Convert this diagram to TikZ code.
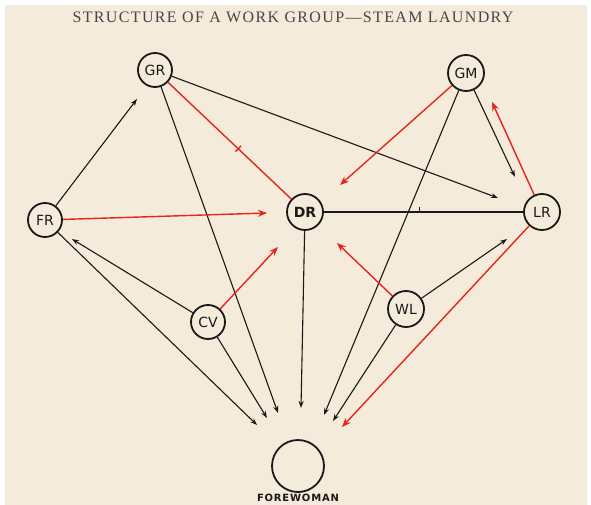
\documentclass[tikz,border=0pt]{standalone}
\usepackage{fontspec}
\setmainfont{Liberation Serif}
\newfontfamily\labfont{DejaVu Sans}
\newfontfamily\titlefont[LetterSpace=8.5]{Liberation Serif}
\newfontfamily\fwfont[LetterSpace=8]{DejaVu Sans}
\usetikzlibrary{arrows.meta}
\definecolor{paper}{RGB}{245,235,218}
\definecolor{ink}{RGB}{25,25,25}
\definecolor{redink}{RGB}{228,38,28}
\definecolor{titlegray}{RGB}{70,70,70}
\tikzset{
  person/.style={circle, draw=ink, line width=1.8pt, fill=paper, inner sep=0pt, font=\labfont\fontsize{14}{14}\selectfont, text=ink},
  blk/.style={draw=ink, line width=1.1pt, -{Stealth[length=7pt,width=5pt]}},
  rd/.style={draw=redink, line width=1.4pt, -{Stealth[length=9pt,width=7pt]}},
  blkline/.style={draw=ink, line width=1.1pt},
  rdline/.style={draw=redink, line width=1.4pt},
}
\begin{document}
\begin{tikzpicture}[x=1pt,y=-1pt]
\useasboundingbox (0,0) rectangle (591,505);
\fill[white] (0,0) rectangle (591,505);
\fill[paper] (5,5) rectangle (587,505);
\node[font=\titlefont\fontsize{16}{16}\selectfont, text=titlegray] (title) at (293,17) {STRUCTURE OF A WORK GROUP—STEAM LAUNDRY};

\node[person, minimum size=34pt] (GR) at (155,70) {GR};
\node[person, minimum size=36pt] (GM) at (466,73) {GM};
\node[person, minimum size=34pt] (FR) at (45,220) {FR};
\node[person, minimum size=36pt, font=\labfont\bfseries\fontsize{14}{14}\selectfont] (DR) at (305,212) {DR};
\node[person, minimum size=36pt] (LR) at (542,212) {LR};
\node[person, minimum size=34pt] (CV) at (208,322) {CV};
\node[person, minimum size=36pt] (WL) at (406,309) {WL};
\node[person, minimum size=52pt] (FW) at (298,466) {};
\node[font=\fwfont\bfseries\fontsize{10}{10}\selectfont, text=ink] (fwl) at (298,498) {FOREWOMAN};

% arrow end points
\coordinate (eFRGR) at (137,99);
\coordinate (eGRLR) at (498,198);
\coordinate (eGRFW) at (278,413);
\coordinate (eCVFW) at (267,418);
\coordinate (eFRFW) at (257,425);
\coordinate (eDRFW) at (301,408);
\coordinate (eGMFW) at (324,415);
\coordinate (eWLFW) at (333,421);
\coordinate (eLRFW) at (342,427);
\coordinate (eGMLR) at (515,177);
\coordinate (eLRGM) at (492,102);
\coordinate (eGMDR) at (340,185);
\coordinate (eFRDR) at (267,213);
\coordinate (eCVFR) at (72,239);
\coordinate (eCVDR) at (278,247);
\coordinate (eWLDR) at (337,243);
\coordinate (eWLLR) at (507,239);

% black arrows
\draw[blk] (FR) -- (eFRGR);
\draw[blk] (GR) -- (eGRLR);
\draw[blk] (GR) -- (eGRFW);
\draw[blk] (CV) -- (eCVFW);
\draw[blk] (FR) -- (eFRFW);
\draw[blk] (DR) -- (eDRFW);
\draw[blk] (GM) -- (eGMFW);
\draw[blk] (WL) -- (eWLFW);
\draw[blk] (GM) -- (eGMLR);
\draw[blk] (CV) -- (eCVFR);
\draw[blk] (WL) -- (eWLLR);
\draw[blkline] (DR) -- (LR) node[pos=0.48, sloped, above, inner sep=0pt, text=ink]{\rule{1pt}{4pt}};

% red arrows
\draw[rd] (LR) -- (eLRFW);
\draw[rd] (LR) -- (eLRGM);
\draw[rd] (GM) -- (eGMDR);
\draw[rd] (FR) -- (eFRDR);
\draw[rd] (CV) -- (eCVDR);
\draw[rd] (WL) -- (eWLDR);
\draw[rdline] (GR) -- (DR) node[pos=0.57, sloped, inner sep=0pt, text=redink]{\rule{1.4pt}{8pt}};
\end{tikzpicture}
\end{document}
